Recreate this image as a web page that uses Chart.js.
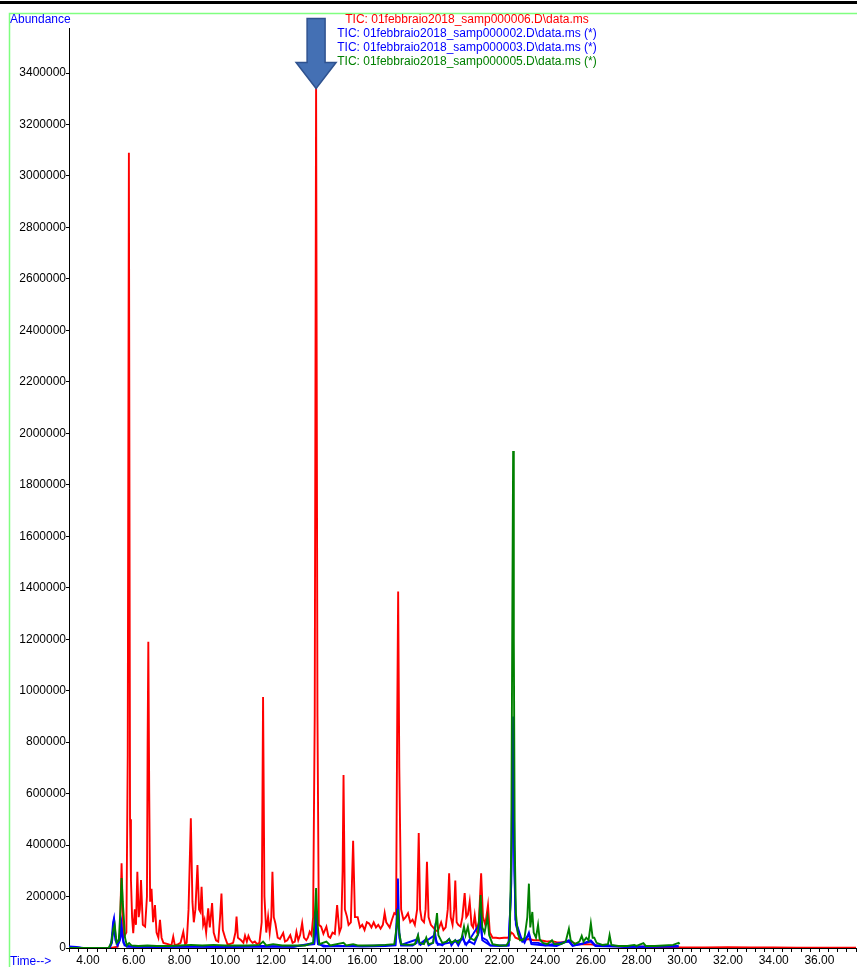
<!DOCTYPE html>
<html>
<head>
  <script src="https://cdn.jsdelivr.net/npm/chart.js"></script>
  <style>
    body { margin: 0; background: #fff; }
    #wrap { width: 857px; height: 967px; position: relative; }
  </style>
</head>
<body>
  <div id="wrap"><canvas id="tic"></canvas></div>
  <script>
    // file names shown at the top, in the same order as the traces below
    const legendNames = [
      'TIC: 01febbraio2018_samp000006.D\\data.ms',
      'TIC: 01febbraio2018_samp000002.D\\data.ms (*)',
      'TIC: 01febbraio2018_samp000003.D\\data.ms (*)',
      'TIC: 01febbraio2018_samp000005.D\\data.ms (*)'
    ];

    // [time (min), abundance]
    const samp06 = [
      [3.17,0],[5.0,0],[5.3,5000],[5.4,60000],[5.47,329000],[5.55,40000],[5.68,60000],[5.74,750000],
      [5.79,3090000],[5.84,500000],[5.88,265000],[5.93,120000],[5.98,58000],[6.05,150000],[6.1,90000],
      [6.16,296000],[6.22,120000],[6.27,150000],[6.32,264000],[6.4,90000],[6.5,83000],[6.58,200000],
      [6.61,800000],[6.64,1190000],[6.68,600000],[6.72,180000],[6.78,230000],[6.85,100000],[6.93,167000],
      [7.0,60000],[7.08,40000],[7.15,109000],[7.22,40000],[7.3,20000],[7.5,15000],[7.65,10000],[7.73,44000],
      [7.8,10000],[7.95,15000],[8.05,20000],[8.17,63000],[8.25,15000],[8.32,20000],[8.4,150000],[8.5,504000],
      [8.57,180000],[8.63,100000],[8.7,150000],[8.79,322000],[8.86,150000],[8.92,140000],[8.97,238000],
      [9.04,90000],[9.1,110000],[9.17,60000],[9.26,154000],[9.33,80000],[9.43,175000],[9.5,60000],[9.6,30000],
      [9.7,25000],[9.78,120000],[9.84,212000],[9.9,70000],[10.0,40000],[10.1,15000],[10.2,15000],[10.35,20000],
      [10.45,60000],[10.5,122000],[10.56,40000],[10.7,30000],[10.8,20000],[10.87,48000],[10.95,25000],
      [11.02,47000],[11.1,30000],[11.2,20000],[11.3,25000],[11.4,15000],[11.5,20000],[11.6,100000],
      [11.66,975000],[11.72,200000],[11.8,60000],[11.88,122000],[11.95,60000],[12.02,120000],[12.07,296000],
      [12.13,120000],[12.2,95000],[12.3,40000],[12.4,35000],[12.54,58000],[12.62,25000],[12.72,30000],
      [12.85,50000],[12.95,20000],[13.05,25000],[13.12,63000],[13.2,30000],[13.28,50000],[13.37,97000],
      [13.45,40000],[13.55,30000],[13.62,40000],[13.7,63000],[13.78,50000],[13.85,120000],[13.92,900000],
      [13.98,3360000],[14.04,900000],[14.1,90000],[14.2,83000],[14.3,55000],[14.43,83000],[14.52,45000],
      [14.6,40000],[14.7,60000],[14.8,55000],[14.9,167000],[15.0,60000],[15.08,80000],[15.14,300000],
      [15.18,672000],[15.24,150000],[15.33,122000],[15.4,90000],[15.5,100000],[15.6,417000],[15.68,120000],
      [15.8,120000],[15.9,80000],[16.0,90000],[16.1,70000],[16.2,100000],[16.3,95000],[16.4,80000],
      [16.5,100000],[16.6,80000],[16.7,90000],[16.8,75000],[16.9,90000],[16.98,136000],[17.05,100000],
      [17.2,80000],[17.3,110000],[17.4,136000],[17.48,130000],[17.53,900000],[17.57,1385000],[17.62,700000],
      [17.7,150000],[17.8,110000],[17.9,120000],[18.0,135000],[18.1,100000],[18.2,110000],[18.3,90000],
      [18.4,150000],[18.47,447000],[18.53,150000],[18.6,110000],[18.7,100000],[18.77,150000],[18.83,335000],
      [18.9,120000],[19.0,90000],[19.1,80000],[19.2,70000],[19.3,65000],[19.45,100000],[19.55,70000],
      [19.65,80000],[19.74,150000],[19.8,290000],[19.87,120000],[19.95,90000],[20.02,150000],[20.07,262000],
      [20.13,100000],[20.2,90000],[20.3,83000],[20.38,120000],[20.48,213000],[20.55,120000],[20.62,130000],
      [20.7,180000],[20.78,90000],[20.85,80000],[20.92,128000],[21.0,70000],[21.1,100000],[21.2,290000],
      [21.28,120000],[21.38,90000],[21.5,167000],[21.58,60000],[21.7,40000],[21.85,40000],[22.0,38000],
      [22.2,40000],[22.35,40000],[22.45,45000],[22.52,60000],[22.6,55000],[22.7,40000],[22.9,33000],
      [23.1,32000],[23.3,35000],[23.5,30000],[23.7,30000],[23.9,28000],[24.1,25000],[24.3,26000],
      [24.5,23000],[24.7,22000],[24.9,25000],[25.1,25000],[25.3,18000],[25.5,14000],[25.8,15000],
      [26.0,14000],[26.3,10000],[26.6,9000],[26.9,8000],[27.2,7000],[27.5,6000],[27.8,8000],[28.1,5000],
      [28.4,5000],[28.7,4000],[29.0,4000],[29.5,3000],[30.0,2000],[31.0,2000],[32.0,3000],[33.0,2000],
      [34.0,2000],[35.0,1500],[36.0,1500],[37.6,1000]
    ];

    const samp02 = [
      [3.17,6000],[3.5,4000],[3.7,0],[4.95,0],[5.03,30000],[5.1,100000],[5.14,116000],[5.2,50000],
      [5.28,15000],[5.38,40000],[5.46,97000],[5.52,40000],[5.6,10000],[6.0,5000],[7.0,4000],[8.0,5000],
      [9.0,5000],[10.0,4000],[11.0,5000],[12.0,6000],[13.0,5000],[13.9,20000],[13.98,150000],[14.06,20000],
      [14.3,6000],[15.2,8000],[16.0,6000],[17.0,8000],[17.45,10000],[17.52,90000],[17.56,155000],
      [17.62,40000],[17.7,10000],[18.2,10000],[18.38,20000],[18.44,45000],[18.5,15000],[18.8,35000],
      [18.9,10000],[19.1,20000],[19.17,70000],[19.24,20000],[19.5,10000],[19.8,35000],[19.9,10000],
      [20.07,30000],[20.2,10000],[20.4,45000],[20.5,15000],[20.7,25000],[20.9,15000],[21.1,60000],
      [21.17,148000],[21.24,40000],[21.45,30000],[21.6,10000],[22.0,8000],[22.4,10000],[22.5,200000],
      [22.57,700000],[22.6,900000],[22.64,500000],[22.7,110000],[22.8,80000],[22.95,40000],[23.1,20000],
      [23.29,60000],[23.4,20000],[23.7,20000],[24.0,10000],[24.5,8000],[25.04,30000],[25.2,10000],
      [25.6,15000],[26.0,30000],[26.2,10000],[26.8,10000],[27.5,5000],[28.5,5000],[29.84,8000]
    ];

    const samp03 = [
      [3.17,3000],[3.6,2000],[3.8,0],[4.95,0],[5.05,20000],[5.12,90000],[5.2,30000],[5.3,10000],
      [5.4,30000],[5.47,70000],[5.55,20000],[5.7,5000],[7.0,5000],[8.5,6000],[10.0,5000],[11.6,8000],
      [13.0,6000],[13.9,15000],[13.98,100000],[14.06,15000],[14.4,8000],[16.0,8000],[17.45,12000],
      [17.52,150000],[17.56,270000],[17.62,60000],[17.7,12000],[18.44,35000],[18.55,12000],[19.17,50000],
      [19.3,12000],[20.07,25000],[20.4,35000],[20.55,12000],[21.17,100000],[21.25,30000],[21.6,10000],
      [22.4,10000],[22.52,250000],[22.6,780000],[22.65,300000],[22.72,90000],[22.85,50000],[23.0,25000],
      [23.29,50000],[23.4,15000],[24.0,10000],[25.04,25000],[25.2,8000],[26.0,25000],[26.2,8000],
      [27.5,5000],[29.84,6000]
    ];

    const samp05 = [
      [3.17,0],[4.9,0],[5.02,20000],[5.1,70000],[5.17,90000],[5.25,20000],[5.35,30000],[5.42,150000],
      [5.47,272000],[5.52,180000],[5.56,130000],[5.62,40000],[5.7,10000],[5.8,19000],[5.9,10000],
      [6.2,8000],[6.6,10000],[7.0,8000],[7.5,8000],[8.0,10000],[8.5,12000],[9.0,10000],[9.5,12000],
      [10.0,10000],[10.5,10000],[11.0,10000],[11.5,12000],[11.66,25000],[11.8,10000],[12.1,15000],
      [12.5,10000],[13.0,10000],[13.5,10000],[13.85,20000],[13.92,120000],[13.98,233000],[14.04,100000],
      [14.12,15000],[14.43,25000],[14.6,10000],[15.18,20000],[15.3,10000],[15.6,15000],[15.8,10000],
      [16.5,10000],[17.0,12000],[17.4,15000],[17.5,80000],[17.56,150000],[17.62,60000],[17.7,15000],
      [18.0,12000],[18.3,15000],[18.44,50000],[18.5,20000],[18.7,15000],[18.8,40000],[18.9,15000],
      [19.1,20000],[19.2,80000],[19.27,136000],[19.33,50000],[19.5,20000],[19.7,25000],[19.8,35000],
      [19.9,20000],[20.07,30000],[20.2,20000],[20.35,40000],[20.45,83000],[20.52,50000],[20.62,83000],
      [20.7,40000],[20.9,30000],[21.05,50000],[21.12,120000],[21.18,206000],[21.25,80000],[21.35,60000],
      [21.48,120000],[21.55,50000],[21.7,15000],[22.0,10000],[22.3,10000],[22.45,30000],[22.52,400000],
      [22.57,1400000],[22.6,1931000],[22.63,1200000],[22.67,400000],[22.72,136000],[22.8,60000],
      [22.9,30000],[23.0,30000],[23.1,40000],[23.22,120000],[23.29,250000],[23.35,80000],[23.44,140000],
      [23.5,60000],[23.6,40000],[23.69,90000],[23.76,35000],[23.9,20000],[24.1,15000],[24.3,30000],
      [24.4,15000],[24.7,15000],[24.9,25000],[25.04,75000],[25.12,30000],[25.3,15000],[25.5,25000],
      [25.6,47000],[25.68,25000],[25.8,40000],[25.9,30000],[26.0,96000],[26.08,40000],[26.15,40000],
      [26.25,20000],[26.5,12000],[26.75,15000],[26.82,50000],[26.9,12000],[27.2,8000],[27.6,8000],
      [27.9,12000],[28.0,8000],[28.3,19000],[28.4,8000],[28.8,8000],[29.2,10000],[29.6,12000],
      [29.84,20000],[29.88,15000]
    ];

    const timeMin = 3.17, timeMax = 37.62;
    const abundMax = 3575000;
    const arrowTime = 13.98, arrowTipValue = 3340000;

    const FONT = '12px "Liberation Sans", Arial, sans-serif';
    const colors = ['#ff0000', '#0000ff', '#0000ff', '#008000'];

    const toXY = arr => arr.map(p => ({ x: p[0], y: p[1] }));

    // frame, captions, file names and the arrow
    const decor = {
      id: 'decor',
      beforeDraw(chart) {
        const c = chart.ctx;
        c.save();
        c.fillStyle = '#fff';
        c.fillRect(0, 0, chart.width, chart.height);
        c.fillStyle = '#000';
        c.fillRect(0, 1, chart.width, 3);
        c.strokeStyle = '#80ff80';
        c.lineWidth = 1.5;
        c.beginPath();
        c.moveTo(9.5, chart.height);
        c.lineTo(9.5, 13.5);
        c.lineTo(chart.width, 13.5);
        c.stroke();
        c.font = FONT;
        c.fillStyle = '#0000ff';
        c.textBaseline = 'middle';
        c.textAlign = 'left';
        c.fillText('Abundance', 10, 20);
        c.fillText('Time-->', 10, 962);
        c.textAlign = 'center';
        legendNames.forEach((name, i) => {
          c.fillStyle = colors[i];
          c.fillText(name, 467, 20 + i * 14);
        });
        c.restore();
      },
      afterDatasetsDraw(chart) {
        const c = chart.ctx;
        const px = chart.scales.x.getPixelForValue(arrowTime);
        const tip = chart.scales.y.getPixelForValue(arrowTipValue);
        c.save();
        c.beginPath();
        c.moveTo(px, tip);
        c.lineTo(px - 20, tip - 26);
        c.lineTo(px - 9, tip - 26);
        c.lineTo(px - 9, tip - 70);
        c.lineTo(px + 9, tip - 70);
        c.lineTo(px + 9, tip - 26);
        c.lineTo(px + 20, tip - 26);
        c.closePath();
        c.fillStyle = '#4470b4';
        c.fill();
        c.strokeStyle = '#2f528f';
        c.lineWidth = 1.5;
        c.stroke();
        c.restore();
      }
    };

    const series = [samp05, samp03, samp02, samp06];
    const seriesColors = ['#008000', '#0000ff', '#0000ff', '#ff0000'];

    new Chart(document.getElementById('tic'), {
      type: 'line',
      data: {
        datasets: series.map((s, i) => ({
          data: toXY(s),
          borderColor: seriesColors[i],
          borderWidth: 1.9,
          pointRadius: 0,
          tension: 0,
          fill: false
        }))
      },
      options: {
        responsive: true,
        maintainAspectRatio: false,
        animation: false,
        layout: { padding: { top: 28, left: 0, right: 0, bottom: 0 } },
        plugins: { legend: { display: false }, tooltip: { enabled: false } },
        scales: {
          x: {
            type: 'linear',
            min: timeMin,
            max: timeMax,
            afterBuildTicks(scale) {
              const t = [];
              for (let k = 8; k * 0.4 <= timeMax; k++) t.push({ value: +(k * 0.4).toFixed(2) });
              scale.ticks = t;
            },
            afterFit(scale) { scale.height = 19; },
            grid: { drawOnChartArea: false, drawTicks: true, tickLength: 4, color: '#000' },
            border: { display: true, color: '#000', width: 1 },
            ticks: {
              autoSkip: false,
              maxRotation: 0,
              padding: 1,
              color: '#000',
              font: { family: '"Liberation Sans", Arial, sans-serif', size: 12 },
              callback: v => (Math.abs(v % 2) < 1e-6 ? v.toFixed(2) : '')
            }
          },
          y: {
            min: 0,
            max: abundMax,
            afterBuildTicks(scale) {
              const t = [];
              for (let v = 0; v <= 3400000; v += 200000) t.push({ value: v });
              scale.ticks = t;
            },
            afterFit(scale) { scale.width = 69; },
            grid: { drawOnChartArea: false, drawTicks: true, tickLength: 3, color: '#000' },
            border: { display: true, color: '#000', width: 1 },
            ticks: {
              padding: 0,
              color: '#000',
              font: { family: '"Liberation Sans", Arial, sans-serif', size: 12 },
              callback: v => String(v)
            }
          }
        }
      },
      plugins: [decor]
    });
  </script>
</body>
</html>
